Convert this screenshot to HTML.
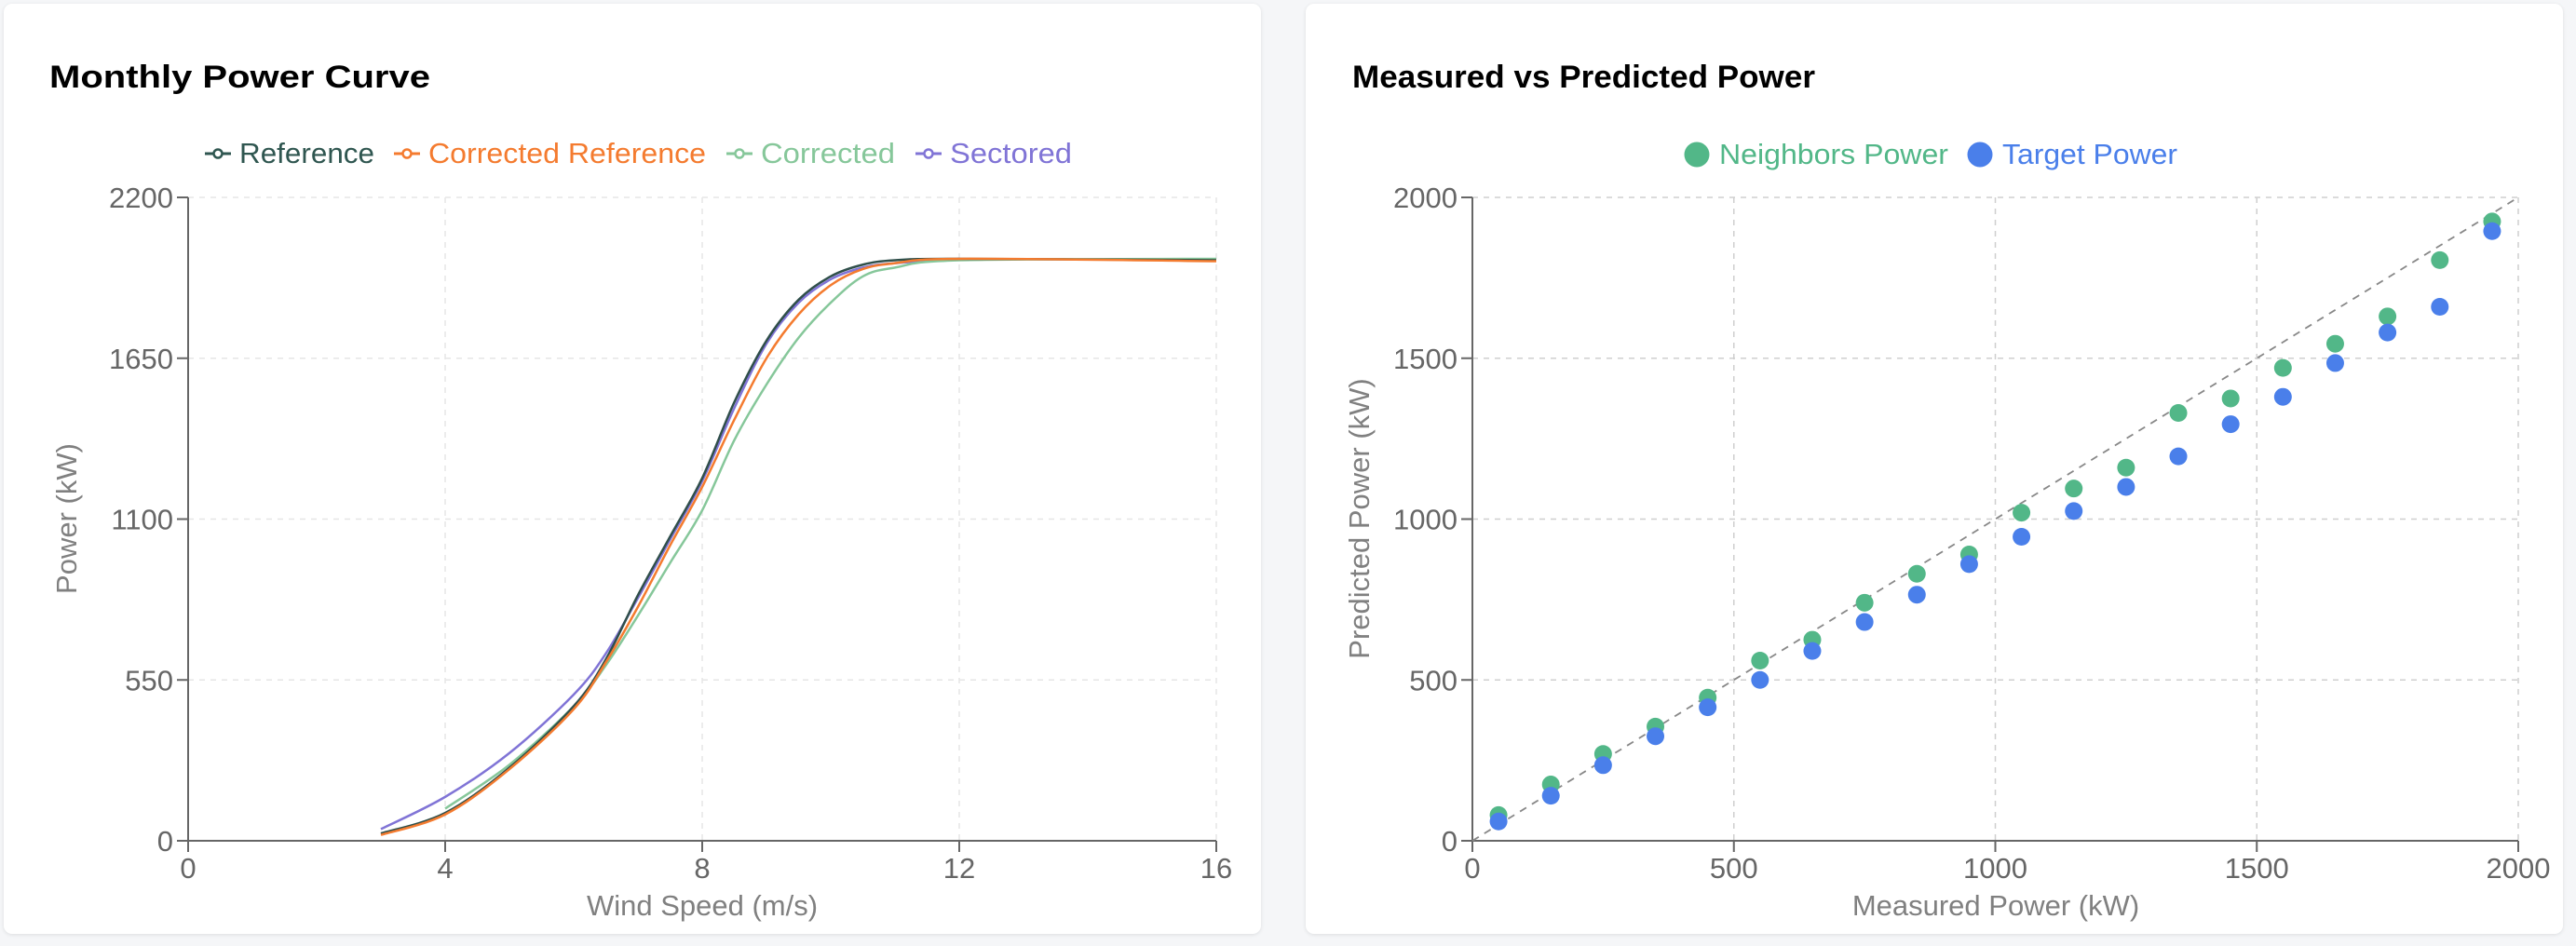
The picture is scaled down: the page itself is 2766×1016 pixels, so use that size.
<!DOCTYPE html>
<html><head><meta charset="utf-8"><style>
html,body{margin:0;padding:0;background:#f5f6f8;}
body{width:2766px;height:1016px;position:relative;overflow:hidden;font-family:"Liberation Sans",sans-serif;}
.card{position:absolute;background:#fff;border-radius:9px;box-shadow:0 1px 4px rgba(0,0,0,0.10);}
svg{position:absolute;left:0;top:0;}
</style></head><body>
<div class="card" style="left:4px;top:4px;width:1350px;height:999px;"></div>
<div class="card" style="left:1402px;top:4px;width:1350px;height:999px;"></div>
<svg id="s" width="2766" height="1016" font-family="Liberation Sans, sans-serif"></svg>
<script>
var s=document.getElementById('s');var h='';
h+='<text x="53" y="94" font-size="34" font-weight="bold" fill="#000" textLength="409" lengthAdjust="spacingAndGlyphs">Monthly Power Curve</text>';
h+='<text x="1452" y="94" font-size="34" font-weight="bold" fill="#000" textLength="497" lengthAdjust="spacingAndGlyphs">Measured vs Predicted Power</text>';
// left chart
var L=202,R=1306,T=212,B=903;
function X1(v){return L+v*(R-L)/16;}function Y1(p){return B-p*(B-T)/2200;}
for(var i=1;i<=4;i++){var x=X1(i*4);h+='<line x1="'+x+'" y1="'+T+'" x2="'+x+'" y2="'+B+'" stroke="#e6e6e6" stroke-width="1.5" stroke-dasharray="6,6"/>';}
for(var i=1;i<=4;i++){var y=Y1(i*550);h+='<line x1="'+L+'" y1="'+y+'" x2="'+R+'" y2="'+y+'" stroke="#e6e6e6" stroke-width="1.5" stroke-dasharray="6,6"/>';}
h+='<line x1="'+L+'" y1="'+T+'" x2="'+L+'" y2="'+B+'" stroke="#666" stroke-width="2"/>';
h+='<line x1="'+L+'" y1="'+B+'" x2="'+R+'" y2="'+B+'" stroke="#666" stroke-width="2"/>';
for(var i=0;i<=4;i++){var x=X1(i*4);h+='<line x1="'+x+'" y1="'+B+'" x2="'+x+'" y2="'+(B+12)+'" stroke="#666" stroke-width="2"/><text x="'+x+'" y="'+(B+40)+'" font-size="31" fill="#666" text-anchor="middle">'+(i*4)+'</text>';}
for(var i=0;i<=4;i++){var y=Y1(i*550);h+='<line x1="'+(L-12)+'" y1="'+y+'" x2="'+L+'" y2="'+y+'" stroke="#666" stroke-width="2"/><text x="'+(L-16)+'" y="'+(y+11)+'" font-size="31" fill="#666" text-anchor="end">'+(i*550)+'</text>';}
h+='<text x="754" y="983" font-size="31" fill="#808080" text-anchor="middle">Wind Speed (m/s)</text>';
h+='<text transform="translate(82,557) rotate(-90)" font-size="31" fill="#808080" text-anchor="middle">Power (kW)</text>';
var series=[
['#8074d6',[[3,40],[4,150],[5,300],[6,500],[6.5,640],[7,830],[7.5,1030],[8,1230],[8.5,1480],[9,1700],[9.5,1840],[10,1920],[10.5,1960],[11,1975],[12,1990]]],
['#86c79a',[[4,110],[5,260],[6,460],[6.5,600],[7,770],[7.5,950],[8,1130],[8.5,1370],[9,1560],[9.5,1720],[10,1840],[10.5,1930],[11,1960],[12,1985],[16,1990]]],
['#2f4f4a',[[3,25],[4,95],[5,250],[6,460],[6.5,620],[7,840],[7.5,1040],[8,1240],[8.5,1500],[9,1710],[9.5,1850],[10,1930],[10.5,1970],[11,1985],[12,1990],[16,1985]]],
['#f47b2f',[[3,20],[4,90],[5,245],[6,450],[6.5,610],[7,800],[7.5,1010],[8,1210],[8.5,1440],[9,1650],[9.5,1800],[10,1900],[10.5,1955],[11,1975],[12,1990],[16,1982]]]
];
series.forEach(function(sr){var p=sr[1].map(function(a){return [X1(a[0]),Y1(a[1])];});
var d='M'+p[0][0]+','+p[0][1];
for(var i=0;i<p.length-1;i++){var p0=p[i-1]||p[i],p1=p[i],p2=p[i+1],p3=p[i+2]||p2;
d+=' C'+(p1[0]+(p2[0]-p0[0])/6)+','+(p1[1]+(p2[1]-p0[1])/6)+' '+(p2[0]-(p3[0]-p1[0])/6)+','+(p2[1]-(p3[1]-p1[1])/6)+' '+p2[0]+','+p2[1];}
h+='<path d="'+d+'" fill="none" stroke="'+sr[0]+'" stroke-width="2.5"/>';});
var lg=[[220,'Reference','#2f5650',145],[423,'Corrected Reference','#f47b2f',298],[780,'Corrected','#86c79a',144],[983,'Sectored','#8074d6',131]];
lg.forEach(function(g){h+='<line x1="'+g[0]+'" y1="165" x2="'+(g[0]+28)+'" y2="165" stroke="'+g[2]+'" stroke-width="3"/><circle cx="'+(g[0]+14)+'" cy="165" r="4.5" fill="#fff" stroke="'+g[2]+'" stroke-width="2.5"/><text x="'+(g[0]+37)+'" y="175" font-size="31" fill="'+g[2]+'" textLength="'+g[3]+'" lengthAdjust="spacingAndGlyphs">'+g[1]+'</text>';});
// right chart
var L2=1581,R2=2704;
function X2(v){return L2+v*(R2-L2)/2000;}function Y2(p){return B-p*(B-T)/2000;}
for(var i=1;i<=4;i++){var x=X2(i*500);h+='<line x1="'+x+'" y1="'+T+'" x2="'+x+'" y2="'+B+'" stroke="#cfcfcf" stroke-width="1.5" stroke-dasharray="6,6"/>';}
for(var i=1;i<=4;i++){var y=Y2(i*500);h+='<line x1="'+L2+'" y1="'+y+'" x2="'+R2+'" y2="'+y+'" stroke="#cfcfcf" stroke-width="1.5" stroke-dasharray="6,6"/>';}
h+='<line x1="'+L2+'" y1="'+T+'" x2="'+L2+'" y2="'+B+'" stroke="#666" stroke-width="2"/>';
h+='<line x1="'+L2+'" y1="'+B+'" x2="'+R2+'" y2="'+B+'" stroke="#666" stroke-width="2"/>';
for(var i=0;i<=4;i++){var x=X2(i*500);h+='<line x1="'+x+'" y1="'+B+'" x2="'+x+'" y2="'+(B+12)+'" stroke="#666" stroke-width="2"/><text x="'+x+'" y="'+(B+40)+'" font-size="31" fill="#666" text-anchor="middle">'+(i*500)+'</text>';}
for(var i=0;i<=4;i++){var y=Y2(i*500);h+='<line x1="'+(L2-12)+'" y1="'+y+'" x2="'+L2+'" y2="'+y+'" stroke="#666" stroke-width="2"/><text x="'+(L2-16)+'" y="'+(y+11)+'" font-size="31" fill="#666" text-anchor="end">'+(i*500)+'</text>';}
h+='<line x1="'+L2+'" y1="'+B+'" x2="'+R2+'" y2="'+T+'" stroke="#888" stroke-width="1.8" stroke-dasharray="8,7"/>';
h+='<text x="2143" y="983" font-size="31" fill="#808080" text-anchor="middle">Measured Power (kW)</text>';
h+='<text transform="translate(1470,557) rotate(-90)" font-size="31" fill="#808080" text-anchor="middle">Predicted Power (kW)</text>';
var ng=[80,175,270,355,445,560,625,740,830,890,1020,1095,1160,1330,1375,1470,1545,1630,1805,1925];
var tg=[60,140,235,325,415,500,590,680,765,860,945,1025,1100,1195,1295,1380,1485,1580,1660,1895];
for(var i=0;i<20;i++){var x=X2(50+i*100);h+='<circle cx="'+x+'" cy="'+Y2(ng[i])+'" r="9.5" fill="#52b788"/>';}
for(var i=0;i<20;i++){var x=X2(50+i*100);h+='<circle cx="'+x+'" cy="'+Y2(tg[i])+'" r="9.5" fill="#4a7fea"/>';}
h+='<circle cx="1822" cy="166" r="13.5" fill="#52b788"/><text x="1846" y="176" font-size="31" fill="#52b788" textLength="246" lengthAdjust="spacingAndGlyphs">Neighbors Power</text>';
h+='<circle cx="2126" cy="166" r="13.5" fill="#4a7fea"/><text x="2150" y="176" font-size="31" fill="#4a7fea" textLength="188" lengthAdjust="spacingAndGlyphs">Target Power</text>';
s.innerHTML=h;
</script>
</body></html>
